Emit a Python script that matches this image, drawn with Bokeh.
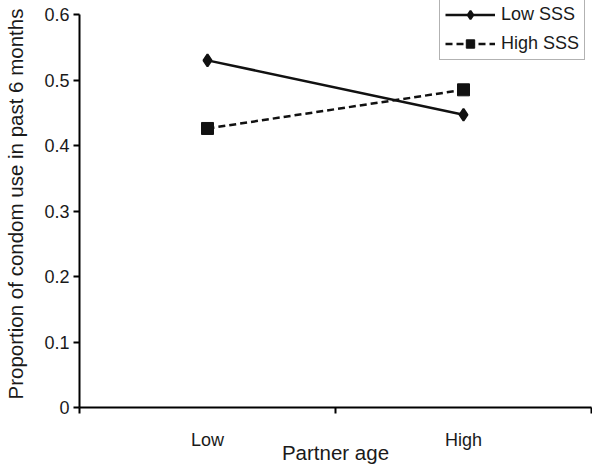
from bokeh.plotting import figure
from bokeh.models import FixedTicker, Legend, LegendItem, Range1d
from bokeh.embed import file_html
from bokeh.resources import INLINE

categories = ["Low", "High"]
low_sss = [0.530, 0.447]
high_sss = [0.426, 0.485]
y_ticks = [0, 0.1, 0.2, 0.3, 0.4, 0.5, 0.6]
y_tick_labels = ["0", "0.1", "0.2", "0.3", "0.4", "0.5", "0.6"]
x_title = "Partner age"
y_title = "Proportion of condom use in past 6 months"

xpos = [i + 0.5 for i in range(len(categories))]
FONT = "Liberation Sans"
TXT = "#1a1a1a"

FRAME_W = 512
FRAME_H = 407
TOP_PAD = 14
Y_TOP = 0.6 * FRAME_H / (FRAME_H - TOP_PAD)

p = figure(frame_width=FRAME_W, frame_height=FRAME_H, output_backend="svg", toolbar_location=None,
           x_range=Range1d(0, len(categories)), y_range=Range1d(0, Y_TOP),
           min_border_left=79, min_border_right=1, min_border_top=0, min_border_bottom=0)
p.grid.visible = False
p.outline_line_color = None

# x axis
p.xaxis.ticker = FixedTicker(ticks=xpos, minor_ticks=list(range(len(categories) + 1)))
p.xaxis.major_label_overrides = {x: c for x, c in zip(xpos, categories)}
p.xaxis.major_tick_line_color = None
p.xaxis.major_tick_out = 0
p.xaxis.major_tick_in = 0
p.xaxis.minor_tick_line_color = "black"
p.xaxis.minor_tick_line_width = 2
p.xaxis.minor_tick_out = 6
p.xaxis.minor_tick_in = 0
p.xaxis.axis_line_width = 2
p.xaxis.major_label_standoff = 16
p.xaxis.axis_label = x_title
p.xaxis.axis_label_standoff = -12

# y axis
p.yaxis.ticker = FixedTicker(ticks=y_ticks, minor_ticks=[])
p.yaxis.bounds = (0, 0.6)
p.yaxis.major_label_overrides = {t: l for t, l in zip(y_ticks, y_tick_labels)}
p.yaxis.major_tick_line_width = 2
p.yaxis.major_tick_out = 6
p.yaxis.major_tick_in = 0
p.yaxis.axis_line_width = 2
p.yaxis.major_label_standoff = 4
p.yaxis.axis_label = y_title
p.yaxis.axis_label_standoff = 14

for ax in (p.xaxis, p.yaxis):
    ax.major_label_text_font = FONT
    ax.major_label_text_font_size = "18px"
    ax.major_label_text_color = TXT
    ax.axis_label_text_font = FONT
    ax.axis_label_text_font_size = "20.5px"
    ax.axis_label_text_font_style = "normal"
    ax.axis_label_text_color = TXT
    ax.axis_line_color = "black"

l1 = p.line(xpos, low_sss, line_color="#111111", line_width=2.5)
s1 = p.scatter(xpos, low_sss, marker="diamond", size=12,
               fill_color="#111111", line_color="#111111", line_width=2)
l2 = p.line(xpos, high_sss, line_color="#111111", line_width=2.5, line_dash="7 4")
s2 = p.scatter(xpos, high_sss, marker="square", size=12,
               fill_color="#111111", line_color="#111111")

legend = Legend(items=[LegendItem(label="Low SSS", renderers=[l1, s1]),
                       LegendItem(label="High SSS", renderers=[l2, s2])],
                location=(360, FRAME_H - 60), orientation="vertical",
                glyph_width=50, glyph_height=21, label_height=21,
                label_text_font=FONT, label_text_font_size="18px", label_text_color=TXT,
                label_standoff=6, spacing=8, padding=5, margin=0,
                border_line_color="#666666", border_line_width=1,
                background_fill_color="white", background_fill_alpha=1)
p.add_layout(legend)

open("out.html", "w").write(file_html(p, INLINE))
